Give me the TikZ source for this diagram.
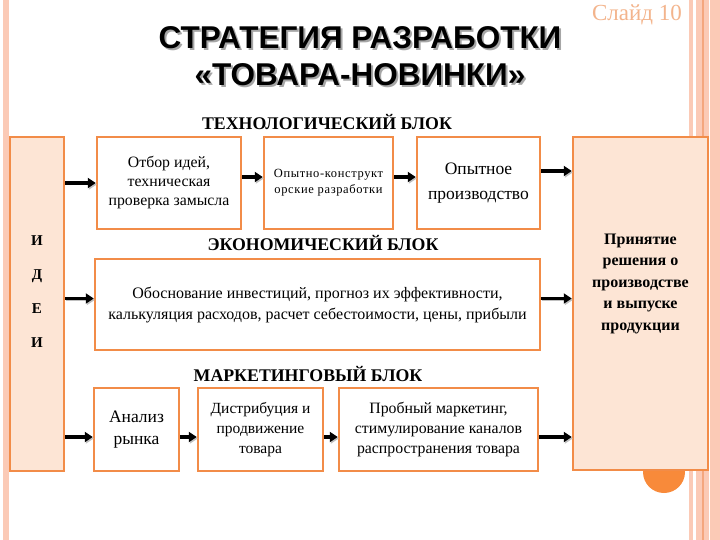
\documentclass[tikz,border=0pt]{standalone}
\usepackage{fontspec}
\setmainfont{Liberation Serif}
\newfontfamily\titlefont{Liberation Sans}
\usepackage{xcolor}
\usetikzlibrary{arrows.meta}

\definecolor{boxline}{HTML}{F28C48}
\definecolor{boxfill}{HTML}{FDE5D5}
\definecolor{stripe}{HTML}{FBCAB6}
\definecolor{stripedark}{HTML}{F4A67E}
\definecolor{slidenum}{HTML}{F3B48C}
\definecolor{dotorange}{HTML}{F88A3A}

\newcommand{\shadowed}[1]{\makebox[0pt][l]{\hspace{2pt}\raisebox{-2pt}{\textcolor{black!35}{#1}}}#1}

\tikzset{
  box/.style={draw=boxline, line width=2.5pt, fill=white, inner sep=2pt, align=center},
  sidebox/.style={box, fill=boxfill},
  blocktitle/.style={font=\fontsize{17.8}{20}\selectfont\bfseries},
  arr/.style={line width=3.4pt, -{Triangle[length=8pt,width=10pt]},
    preaction={draw=black!25, transform canvas={xshift=1pt,yshift=-1.5pt}}}
}

\begin{document}
\begin{tikzpicture}[x=1pt,y=-1pt]
\useasboundingbox (0,0) rectangle (720,540);

% frame stripes
\fill[stripe] (3,0) rectangle (9,540);
\fill[stripe] (689,0) rectangle (693,540);
\fill[stripe] (696,0) rectangle (720,540);
\fill[stripedark] (702,0) rectangle (703.5,540);
\fill[white] (708.5,0) rectangle (709.5,540);
\fill[dotorange] (664,472) circle[radius=21pt];

% title
\node[font=\titlefont\fontsize{31.5}{37}\selectfont\bfseries, align=center] (title) at (360,57)
  {\shadowed{СТРАТЕГИЯ РАЗРАБОТКИ}\\\shadowed{«ТОВАРА-НОВИНКИ»}};
\node[font=\fontsize{23}{26}\selectfont, text=slidenum] (slide) at (637,15) {Слайд 10};

% side boxes
\node[sidebox, minimum width=54pt, minimum height=334pt] (idei) at (37,304) {};
\node[sidebox, minimum width=135pt, minimum height=333pt] (prin) at (640.5,303.5) {};
\node[font=\fontsize{15}{34}\selectfont\bfseries, align=center] (ideitext) at (37,292) {И\\Д\\Е\\И};
\node[font=\fontsize{16}{21.5}\selectfont\bfseries, align=center] (printext) at (640.5,283.5)
  {Принятие\\решения о\\производстве\\и выпуске\\продукции};

% technological block
\node[blocktitle] (techhead) at (327,122) {ТЕХНОЛОГИЧЕСКИЙ БЛОК};
\node[box, minimum width=144pt, minimum height=92pt, font=\fontsize{15.8}{19}\selectfont] (b1) at (169,183)
  {Отбор идей,\\техническая\\проверка замысла};
\node[box, minimum width=129pt, minimum height=92pt, font=\fontsize{12.5}{16}\selectfont\addfontfeature{LetterSpace=5}] (b2) at (328.5,183)
  {Опытно-конструкт\\орские разработки};
\node[box, minimum width=123pt, minimum height=92pt, font=\fontsize{17.5}{25}\selectfont] (b3) at (478.5,183)
  {Опытное\\производство};

% economic block
\node[blocktitle] (econhead) at (323,243) {ЭКОНОМИЧЕСКИЙ БЛОК};
\node[box, minimum width=445pt, minimum height=91pt, font=\fontsize{16}{21}\selectfont] (econ) at (317.5,304.5)
  {Обоснование инвестиций, прогноз их эффективности,\\калькуляция расходов, расчет себестоимости, цены, прибыли};

% marketing block
\node[blocktitle] (markhead) at (308,374) {МАРКЕТИНГОВЫЙ БЛОК};
\node[box, minimum width=85pt, minimum height=83pt, font=\fontsize{17.5}{22}\selectfont] (ma) at (136.5,429.5)
  {Анализ\\рынка};
\node[box, minimum width=125pt, minimum height=83pt, font=\fontsize{15.5}{20}\selectfont] (mb) at (260.5,429.5)
  {Дистрибуция и\\продвижение\\товара};
\node[box, minimum width=199pt, minimum height=83pt, font=\fontsize{15.8}{20}\selectfont] (mc) at (438.5,429.5)
  {Пробный маркетинг,\\стимулирование каналов\\распространения товара};

% arrows
\draw[arr] (idei.east |- b1.west) -- (b1.west);
\draw[arr] ([yshift=6pt]b1.east) -- ([yshift=6pt]b2.west);
\draw[arr] ([yshift=6pt]b2.east) -- ([yshift=6pt]b3.west);
\draw[arr] ([yshift=12pt]b3.east) -- ([yshift=12pt]b3.east -| prin.west);
\draw[arr] ([yshift=6pt]econ.west -| idei.east) -- ([yshift=6pt]econ.west);
\draw[arr] ([yshift=6pt]econ.east) -- ([yshift=6pt]econ.east -| prin.west);
\draw[arr] ([yshift=-7.5pt]ma.west -| idei.east) -- ([yshift=-7.5pt]ma.west);
\draw[arr] ([yshift=-7.5pt]ma.east) -- ([yshift=-7.5pt]mb.west);
\draw[arr] ([yshift=-7.5pt]mb.east) -- ([yshift=-7.5pt]mc.west);
\draw[arr] ([yshift=-7.5pt]mc.east) -- ([yshift=-7.5pt]mc.east -| prin.west);

\end{tikzpicture}
\end{document}
